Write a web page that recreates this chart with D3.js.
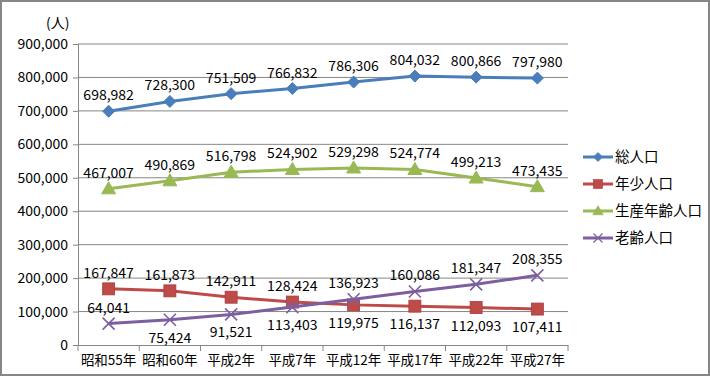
<!DOCTYPE html>
<html>
<head>
<meta charset="utf-8">
<script src="https://cdn.jsdelivr.net/npm/d3@7"></script>
<style>
  body { margin: 0; background: #fff; }
  svg text { font-family: "Noto Sans CJK JP", "Noto Sans", sans-serif; fill: #000; }
</style>
</head>
<body>
<div id="chart"></div>
<script>
// Data
const categories = ['昭和55年', '昭和60年', '平成2年', '平成7年', '平成12年', '平成17年', '平成22年', '平成27年']
const total = [698982, 728300, 751509, 766832, 786306, 804032, 800866, 797980]
const young = [167847, 161873, 142911, 128424, 119975, 116137, 112093, 107411]
const working = [467007, 490869, 516798, 524902, 529298, 524774, 499213, 473435]
const elderly = [64041, 75424, 91521, 113403, 136923, 160086, 181347, 208355]
const seriesNames = ['総人口', '年少人口', '生産年齢人口', '老齢人口']
const yTicks = [0, 100000, 200000, 300000, 400000, 500000, 600000, 700000, 800000, 900000]
// label position per point: 1 = above, -1 = below
const youngPos = [1, 1, 1, 1, -1, -1, -1, -1]
const elderlyPos = [1, -1, -1, -1, 1, 1, 1, 1]

const W = 710, H = 376
const m = { left: 78, right: 142, top: 44, bottom: 31 }
const w = W - m.left - m.right
const h = H - m.top - m.bottom

const svg = d3.select('#chart').append('svg')
    .attr('width', W).attr('height', H)

// outer frame
svg.append('rect')
    .attr('x', 1).attr('y', 1).attr('width', W - 2).attr('height', H - 2)
    .attr('fill', '#fff').attr('stroke', '#868686').attr('stroke-width', 2)

const g = svg.append('g').attr('transform', `translate(${m.left},${m.top})`)

const x = d3.scaleBand().domain(categories).range([0, w])
const y = d3.scaleLinear().domain([0, 900000]).range([h, 0])
const cx = d => x(d) + x.bandwidth() / 2

// gridlines
g.selectAll('.grid').data(yTicks.slice(1)).enter()
    .append('line')
    .attr('x1', 0).attr('x2', w)
    .attr('y1', d => y(d)).attr('y2', d => y(d))
    .attr('stroke', '#868686').attr('stroke-width', 1)

// y axis
const yAxis = g.append('g')
    .call(d3.axisLeft(y).tickValues(yTicks).tickFormat(d3.format(',')).tickSize(5).tickPadding(5))
yAxis.select('.domain').attr('stroke', '#868686')
yAxis.selectAll('.tick line').attr('stroke', '#868686')
yAxis.selectAll('text').attr('font-size', 14)

// x axis
const xAxis = g.append('g').attr('transform', `translate(0,${h})`)
    .call(d3.axisBottom(x).tickSize(0).tickPadding(10))
xAxis.select('.domain').attr('stroke', '#868686')
xAxis.selectAll('text').attr('font-size', 13.5)
xAxis.selectAll('.sep').data(d3.range(categories.length + 1)).enter()
    .append('line')
    .attr('x1', i => i * x.step()).attr('x2', i => i * x.step())
    .attr('y1', 0).attr('y2', 6)
    .attr('stroke', '#868686')

// y unit label
svg.append('text').attr('x', 46).attr('y', 28).attr('font-size', 14).text('(人)')

const series = [
  { name: seriesNames[0], values: total, color: '#4A7EBB', marker: 'diamond', pos: total.map(() => 1) },
  { name: seriesNames[1], values: young, color: '#BE4B48', marker: 'square', pos: youngPos },
  { name: seriesNames[2], values: working, color: '#98B954', marker: 'triangle', pos: working.map(() => 1) },
  { name: seriesNames[3], values: elderly, color: '#7D5FA0', marker: 'x', pos: elderlyPos }
]

function drawMarker(sel, type, color) {
  if (type === 'diamond') {
    sel.append('path').attr('d', 'M0,-6L6,0L0,6L-6,0Z').attr('fill', color).attr('stroke', color)
  } else if (type === 'square') {
    sel.append('rect').attr('x', -6).attr('y', -6).attr('width', 12).attr('height', 12)
        .attr('fill', color).attr('stroke', '#A53E3B').attr('stroke-width', 0.8)
  } else if (type === 'triangle') {
    sel.append('path').attr('d', 'M0,-7L7,5L-7,5Z').attr('fill', color).attr('stroke', color)
  } else {
    sel.append('path').attr('d', 'M-6,-6L6,6M-6,6L6,-6').attr('stroke', color).attr('stroke-width', 1.6).attr('fill', 'none')
  }
}

const line = d3.line().x((d, i) => cx(categories[i])).y(d => y(d))

series.forEach(s => {
  g.append('path').datum(s.values)
      .attr('d', line).attr('fill', 'none')
      .attr('stroke', s.color).attr('stroke-width', 3)
  s.values.forEach((v, i) => {
    const mk = g.append('g').attr('transform', `translate(${cx(categories[i])},${y(v)})`)
    drawMarker(mk, s.marker, s.color)
  })
  g.selectAll(null).data(s.values).enter()
      .append('text')
      .attr('x', (d, i) => cx(categories[i]))
      .attr('y', (d, i) => s.pos[i] > 0 ? y(d) - 11 : y(d) + 23)
      .attr('text-anchor', 'middle')
      .attr('font-size', 14)
      .text(d => d3.format(',')(d))
})

// legend
const legend = svg.append('g').attr('transform', 'translate(583,157)')
series.forEach((s, i) => {
  const row = legend.append('g').attr('transform', `translate(0,${i * 27})`)
  row.append('line').attr('x1', 0).attr('x2', 30).attr('stroke', s.color).attr('stroke-width', 3)
  const mk = row.append('g').attr('transform', 'translate(15,0) scale(0.75)')
  drawMarker(mk, s.marker, s.color)
  row.append('text').attr('x', 32).attr('y', 5).attr('font-size', 14.5).text(s.name)
})
</script>
</body>
</html>
